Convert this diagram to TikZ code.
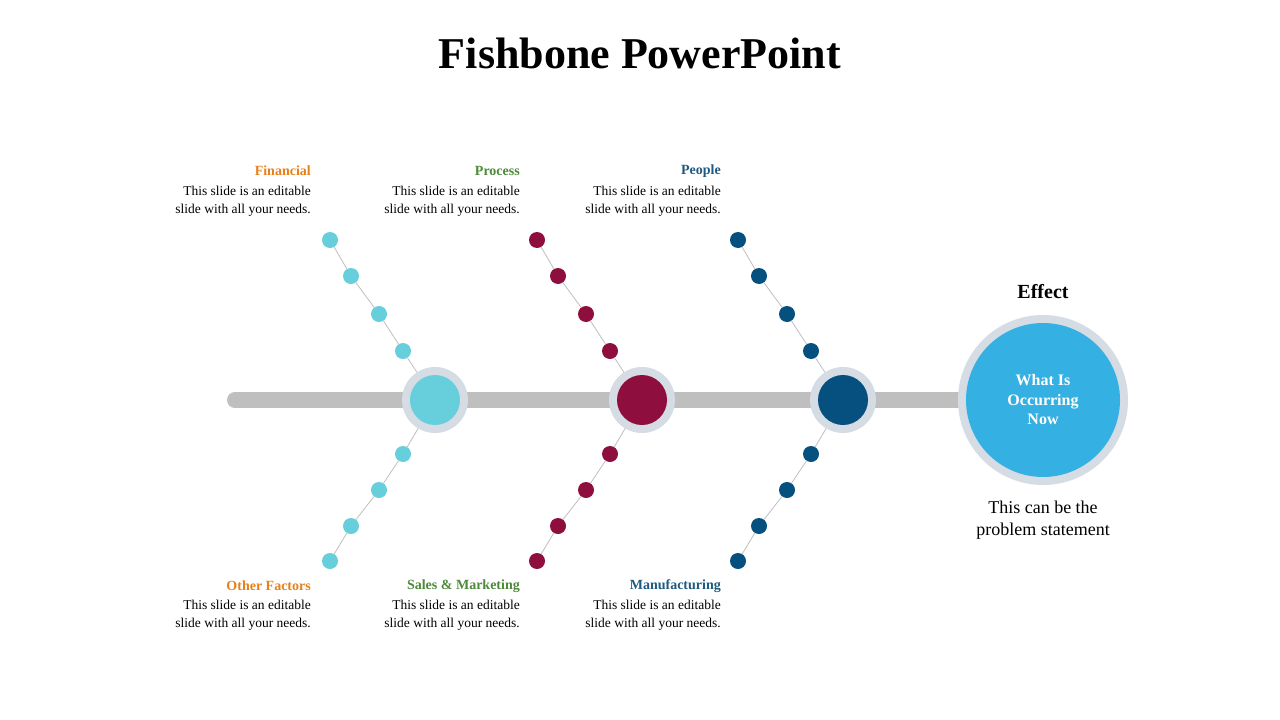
\documentclass[tikz,border=0pt]{standalone}
\usepackage{fontspec}
\setmainfont{Liberation Serif}
\begin{document}
\begin{tikzpicture}[x=1pt,y=-1pt,
  ring/.style={circle,fill=ringgray,inner sep=0pt},
  dotc/.style={circle,inner sep=0pt,minimum size=16pt},
  bone/.style={draw=black!25,line width=0.8pt},
  ttl/.style={font=\bfseries\fontsize{14}{16}\selectfont,anchor=east,inner sep=0pt},
  body/.style={font=\fontsize{13.5}{18}\selectfont,align=right,anchor=north east,inner sep=0pt}]
\definecolor{ringgray}{HTML}{D6DCE4}
\definecolor{cy}{HTML}{66CFDB}
\definecolor{cr}{HTML}{8E0F3E}
\definecolor{nv}{HTML}{05507F}
\definecolor{sky}{HTML}{35B0E3}
\definecolor{org}{HTML}{E8801A}
\definecolor{grn}{HTML}{4E8A3A}
\definecolor{blu}{HTML}{1F5A80}
\useasboundingbox (0,0) rectangle (1280,720);
\fill[white] (0,0) rectangle (1280,720);
\node[font=\bfseries\fontsize{44}{50}\selectfont] (title) at (640,53) {Fishbone PowerPoint};
\coordinate (s0) at (235,400); \coordinate (s1) at (970,400);
\draw[line width=16pt,black!25,line cap=round] (s0) -- (s1);
\foreach \c/\x/\n in {cy/435/a,cr/642/b,nv/843/c}{
  \pgfmathsetmacro{\xa}{\x-105}\pgfmathsetmacro{\xb}{\x-84}\pgfmathsetmacro{\xc}{\x-56}\pgfmathsetmacro{\xd}{\x-32}
  \coordinate (h\n) at (\x,400);
  \node[dotc,fill=\c] (\n u1) at (\xa,240) {};
  \node[dotc,fill=\c] (\n u2) at (\xb,276) {};
  \node[dotc,fill=\c] (\n u3) at (\xc,314) {};
  \node[dotc,fill=\c] (\n u4) at (\xd,351) {};
  \node[dotc,fill=\c] (\n d1) at (\xa,561) {};
  \node[dotc,fill=\c] (\n d2) at (\xb,526) {};
  \node[dotc,fill=\c] (\n d3) at (\xc,490) {};
  \node[dotc,fill=\c] (\n d4) at (\xd,454) {};
  \draw[bone] (h\n) -- (\n u4) -- (\n u3) -- (\n u2) -- (\n u1);
  \draw[bone] (h\n) -- (\n d4) -- (\n d3) -- (\n d2) -- (\n d1);
  \node[ring,minimum size=66pt] (\n r) at (h\n) {};
  \node[circle,fill=\c,inner sep=0pt,minimum size=50pt] (\n h) at (h\n) {};
}
\node[ring,minimum size=170pt] (er) at (1043,400) {};
\node[circle,fill=sky,minimum size=154pt,inner sep=0pt,text=white,align=center,
  font=\bfseries\fontsize{16}{19.5}\selectfont] (eff) at (1043,400) {What Is\\Occurring\\Now};
\node[font=\bfseries\fontsize{20}{24}\selectfont] (efft) at (1043,292) {Effect};
\node[font=\fontsize{18}{21.5}\selectfont,align=center] (ps) at (1043,520) {This can be the\\problem statement};
\foreach \x/\t/\col/\n in {311/Financial/org/1,520/Process/grn/2,721/People/blu/3}{
  \node[ttl,text=\col] (t\n) at (\x,171) {\t};
  \node[body] (b\n) at (\x,186) {This slide is an editable\\slide with all your needs.};
}
\foreach \x/\t/\col/\n in {311/Other Factors/org/4,520/Sales \& Marketing/grn/5,721/Manufacturing/blu/6}{
  \node[ttl,text=\col] (t\n) at (\x,586) {\t};
  \node[body] (b\n) at (\x,600) {This slide is an editable\\slide with all your needs.};
}
\end{tikzpicture}
\end{document}
